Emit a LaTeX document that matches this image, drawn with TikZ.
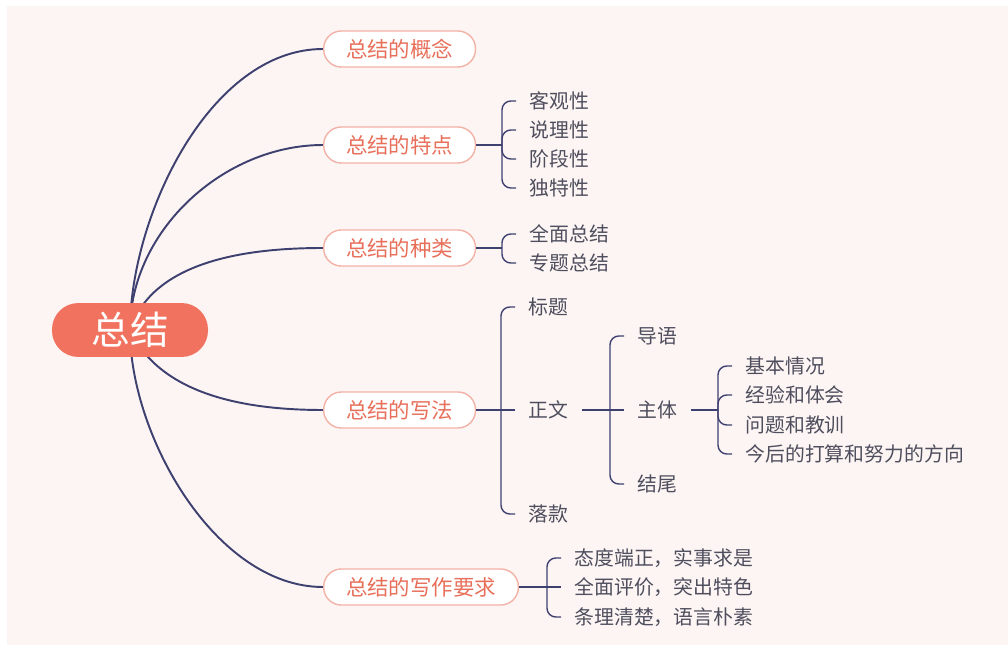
\documentclass[tikz,border=0pt]{standalone}
\usepackage{fontspec}
\setmainfont{Noto Sans CJK SC}
\usetikzlibrary{positioning,backgrounds}
\definecolor{bgpink}{HTML}{FDF5F3}
\definecolor{rootred}{HTML}{F1735F}
\definecolor{coral}{HTML}{E8705B}
\definecolor{coralline}{HTML}{F2B2A6}
\definecolor{navy}{HTML}{3E4170}
\definecolor{leafgray}{HTML}{4E4E5E}
\tikzset{
    root/.style={rounded corners=15pt, fill=rootred, text=white, minimum width=88.8pt, minimum height=30.7pt, font=\fontsize{22}{24}\selectfont},
    branch/.style={anchor=west, rounded corners=10pt, draw=coralline, line width=0.8pt, fill=white, text=coral, inner xsep=12.7pt, minimum height=20.5pt, font=\fontsize{12.2}{14}\selectfont},
    leaf/.style={anchor=west, inner xsep=7.5pt, inner ysep=2pt, text=leafgray, font=\fontsize{11.3}{13}\selectfont},
    link/.style={draw=navy, line width=1.1pt},
    brace/.style={draw=navy, line width=0.8pt, rounded corners=5pt}
}
\begin{document}
\begin{tikzpicture}[x=0.02cm, y=-0.02cm]
\useasboundingbox (0,0) rectangle (1008,645);

% root and main branches
\node[root] (root) at (130,330) {总结};
\node[branch] (concept) at (323,49)  {总结的概念};
\node[branch] (feature) at (323,145) {总结的特点};
\node[branch] (kind)    at (323,248) {总结的种类};
\node[branch] (method)  at (323,410) {总结的写法};
\node[branch] (demand)  at (323,587) {总结的写作要求};

% brace junctions
\coordinate (jfeature) at (502,145);
\coordinate (jkind)    at (502,248);
\coordinate (jmethod)  at (501,410);
\coordinate (jtext)    at (610,410);
\coordinate (jbody)    at (718,410);
\coordinate (jdemand)  at (547,587);

% leaves
\node[leaf] (f1) at (516,101) {客观性};
\node[leaf] (f2) at (516,130) {说理性};
\node[leaf] (f3) at (516,159) {阶段性};
\node[leaf] (f4) at (516,188) {独特性};

\node[leaf] (k1) at (516,234) {全面总结};
\node[leaf] (k2) at (516,263) {专题总结};

\node[leaf] (m1) at (515,307) {标题};
\node[leaf] (m2) at (515,410) {正文};
\node[leaf] (m3) at (515,514) {落款};

\node[leaf] (t1) at (624,336) {导语};
\node[leaf] (t2) at (624,410) {主体};
\node[leaf] (t3) at (624,484) {结尾};

\node[leaf] (b1) at (732,366) {基本情况};
\node[leaf] (b2) at (732,395) {经验和体会};
\node[leaf] (b3) at (732,425) {问题和教训};
\node[leaf] (b4) at (732,454) {今后的打算和努力的方向};

\node[leaf] (d1) at (561,558) {态度端正，实事求是};
\node[leaf] (d2) at (561,587) {全面评价，突出特色};
\node[leaf] (d3) at (561,617) {条理清楚，语言朴素};

% curved links from the root
\begin{scope}[on background layer]
\fill[bgpink] (7,6) rectangle (1008,645);
\draw[link] (root.center) to[out=90, in=180, looseness=0.85] (concept.west);
\draw[link] (root.center) to[out=90, in=180, looseness=0.95] (feature.west);
\draw[link] (root.center) to[out=72, in=180, looseness=0.9] (kind.west);
\draw[link] (root.center) to[out=-65, in=180, looseness=0.9] (method.west);
\draw[link] (root.center) to[out=-90, in=180, looseness=0.85] (demand.west);
\end{scope}

% braces
\draw[brace] (feature.east) -- (jfeature);
\draw[brace] (jfeature) |- (f1.west);
\draw[brace] (jfeature) |- (f2.west);
\draw[brace] (jfeature) |- (f3.west);
\draw[brace] (jfeature) |- (f4.west);

\draw[brace] (kind.east) -- (jkind);
\draw[brace] (jkind) |- (k1.west);
\draw[brace] (jkind) |- (k2.west);

\draw[brace] (method.east) -- (jmethod);
\draw[brace] (jmethod) |- (m1.west);
\draw[brace] (jmethod) -- (m2.west);
\draw[brace] (jmethod) |- (m3.west);

\draw[brace] (m2.east) -- (jtext);
\draw[brace] (jtext) |- (t1.west);
\draw[brace] (jtext) -- (t2.west);
\draw[brace] (jtext) |- (t3.west);

\draw[brace] (t2.east) -- (jbody);
\draw[brace] (jbody) |- (b1.west);
\draw[brace] (jbody) |- (b2.west);
\draw[brace] (jbody) |- (b3.west);
\draw[brace] (jbody) |- (b4.west);

\draw[brace] (demand.east) -- (jdemand);
\draw[brace] (jdemand) |- (d1.west);
\draw[brace] (jdemand) -- (d2.west);
\draw[brace] (jdemand) |- (d3.west);
\end{tikzpicture}
\end{document}
